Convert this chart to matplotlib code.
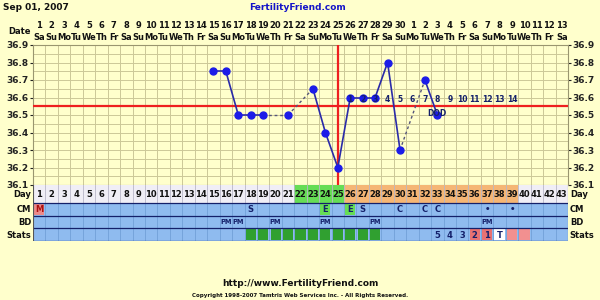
import matplotlib
matplotlib.use("Agg")
import matplotlib.pyplot as plt
import numpy as np
import pandas as pd

# ---- data ----
start_date = "2007-09-01"
n_days = 43

temp_days = [15, 16, 17, 18, 19, 21, 23, 24, 25, 26, 27, 28, 29, 30, 32, 33]
temps = [36.75, 36.75, 36.5, 36.5, 36.5, 36.5, 36.65, 36.4, 36.2,
         36.6, 36.6, 36.6, 36.8, 36.3, 36.7, 36.5]

coverline = 36.55
ovulation_day = 25

dpo_days = list(range(26, 40))
dpo_labels = [str(i) for i in range(1, 15)]

fertile_days = [22, 23, 24, 25]
luteal_days = list(range(26, 40))

cm_days = [1, 18, 24, 26, 27, 30, 32, 33, 37, 39]
cm_text = ["M", "S", "E", "E", "S", "C", "C", "C", "\u2022", "\u2022"]
cm_box = {1: "#ec8a8a", 24: "#66dd55", 26: "#66dd55"}

bd_days = [16, 17, 20, 24, 28, 37]
bd_text = ["PM"] * len(bd_days)

stats_green_days = list(range(18, 29))
stats_days = [33, 34, 35, 36, 37, 38]
stats_text = ["5", "4", "3", "2", "1", "T"]
stats_box = {36: "#e87272", 37: "#e87272", 38: "#ffffff", 39: "#f29090", 40: "#f29090"}

y_ticks = [36.1, 36.2, 36.3, 36.4, 36.5, 36.6, 36.7, 36.8, 36.9]

# ---- style ----
BG = "#ffffcc"
GRID = "#ccc898"
NAVY = "#14206a"
BLUE_ROW = "#8fbbef"
FONT = "DejaVu Sans"
FS = 6

plt.rcParams["font.family"] = FONT
plt.rcParams["font.weight"] = "bold"

fig = plt.figure(figsize=(6, 3), dpi=100, facecolor=BG)

W, H = 600.0, 300.0
x0, x1 = 33, 568
ax = fig.add_axes([x0 / W, 1 - 185 / H, (x1 - x0) / W, 140 / H])
ax.set_facecolor(BG)
ax.set_xlim(0.5, n_days + 0.5)
ax.set_ylim(36.1, 36.9)

ax.set_xticks([])
ax.set_xticks(np.arange(0.5, n_days + 1, 1), minor=True)
ax.set_yticks(y_ticks)
ax.set_yticklabels([f"{v:.1f}" for v in y_ticks])
ax.set_yticks(np.arange(36.15, 36.9, 0.1), minor=True)
ax.grid(True, which="both", color=GRID, linewidth=0.7)
ax.tick_params(axis="y", which="major", left=True, right=True, labelleft=True,
               labelright=True, length=2, pad=1, labelsize=FS + 0.5, colors="#222222")
ax.tick_params(axis="both", which="minor", length=0)
ax.tick_params(axis="x", which="both", length=0)
for s in ax.spines.values():
    s.set_color("#9a9670")
    s.set_linewidth(0.8)

# coverline and ovulation line
ax.axhline(coverline, color="#ee2020", linewidth=1.6, zorder=3)
ax.axvline(ovulation_day, color="#ee2020", linewidth=1.6, zorder=3)

# temperature line: solid for consecutive days, dashed across gaps
for i in range(len(temp_days) - 1):
    xs = temp_days[i:i + 2]
    ys = temps[i:i + 2]
    if xs[1] - xs[0] == 1:
        ax.plot(xs, ys, color="#2a2aa8", linewidth=1.2, zorder=4)
    else:
        ax.plot(xs, ys, color="#55557a", linewidth=1.0, dashes=(2, 2), zorder=4)
ax.plot(temp_days, temps, "o", color="#1c1ce8", markersize=5, zorder=5)

# days past ovulation
for d, lab in zip(dpo_days, dpo_labels):
    ax.text(d, 36.587, lab, ha="center", va="center", fontsize=FS - 0.5, color=NAVY, zorder=6)
ax.text(33, 36.51, "DOD", ha="center", va="center", fontsize=FS - 0.5, color=NAVY, zorder=6)

# date header
dates = pd.date_range(start_date, periods=n_days)
xt = ax.get_xaxis_transform()
for i, dt in enumerate(dates):
    d = i + 1
    ax.text(d, (185 - 26) / 140, str(dt.day), transform=xt, ha="center",
            va="center", fontsize=FS, color="#111111")
    ax.text(d, (185 - 37) / 140, dt.strftime("%a")[:2], transform=xt, ha="center",
            va="center", fontsize=FS, color="#111111")
fig.text(31 / W, 1 - 32 / H, "Date", ha="right", va="center", fontsize=FS, color="#111111")

# ---- strips below ----
sx = fig.add_axes([x0 / W, 1 - 241 / H, (x1 - x0) / W, 56 / H])
sx.set_xlim(0.5, n_days + 0.5)
sx.set_ylim(56, 0)
sx.axis("off")
rows = {"Day": (0, 18), "CM": (18, 31), "BD": (31, 43), "Stats": (43, 56)}

all_days = np.arange(1, n_days + 1)
day_colors = []
for d in all_days:
    if d in fertile_days:
        day_colors.append("#66dd55")
    elif d in luteal_days:
        day_colors.append("#f5b675")
    else:
        day_colors.append("#f0eef6")
sx.bar(all_days, 18, bottom=0, width=1, color=day_colors, linewidth=0)
for name in ["CM", "BD", "Stats"]:
    a, b = rows[name]
    sx.bar(all_days, b - a, bottom=a, width=1, color=BLUE_ROW, linewidth=0)

# column separators
for xb in np.arange(0.5, n_days + 1, 1):
    sx.plot([xb, xb], [0, 18], color="#b8b6c8", linewidth=0.6)
    sx.plot([xb, xb], [18, 56], color="#72a0d8", linewidth=0.6)
for yb in [18, 31, 43, 56]:
    sx.plot([0.5, n_days + 0.5], [yb, yb], color=NAVY, linewidth=0.9)
sx.plot([0.5, 0.5], [0, 56], color="#555555", linewidth=0.8)
sx.plot([n_days + 0.5, n_days + 0.5], [0, 56], color="#555555", linewidth=0.8)

for d in all_days:
    sx.text(d, 9.5, str(d), ha="center", va="center", fontsize=FS, color="#111111")

cm_y = sum(rows["CM"]) / 2
for d, lab in zip(cm_days, cm_text):
    if d in cm_box:
        sx.bar(d, 11, bottom=cm_y - 5.5, width=0.8, color=cm_box[d], linewidth=0)
    col = "#aa1010" if lab == "M" else NAVY
    sx.text(d, cm_y + 0.5, lab, ha="center", va="center", fontsize=FS, color=col)

bd_y = sum(rows["BD"]) / 2
for d, lab in zip(bd_days, bd_text):
    sx.text(d, bd_y + 0.5, lab, ha="center", va="center", fontsize=FS - 1.2, color=NAVY)

st_y = sum(rows["Stats"]) / 2
sx.bar(stats_green_days, 11, bottom=st_y - 5.5, width=0.82, color="#30a030", linewidth=0)
for d, col in stats_box.items():
    sx.bar(d, 11, bottom=st_y - 5.5, width=0.82, color=col, linewidth=0)
for d, lab in zip(stats_days, stats_text):
    sx.text(d, st_y + 0.5, lab, ha="center", va="center", fontsize=FS, color=NAVY)

for name, (a, b) in rows.items():
    yc = (a + b) / 2 + 0.5
    sx.text(0.35, yc, name, ha="right", va="center", fontsize=FS, color="#111111")
    sx.text(n_days + 0.65, yc, name, ha="left", va="center", fontsize=FS, color="#111111")

# ---- titles ----
fig.text(3 / W, 1 - 7 / H, "Sep 01, 2007", ha="left", va="center", fontsize=6.5, color="#111111")
fig.text(298 / W, 1 - 7 / H, "FertilityFriend.com", ha="center", va="center",
         fontsize=6.5, color="#1414c8")
fig.text(300 / W, 1 - 284 / H, "http://www.FertilityFriend.com", ha="center", va="center",
         fontsize=6.5, color="#111111")
fig.text(300 / W, 1 - 295 / H,
         "Copyright 1998-2007 Tamtris Web Services Inc. - All Rights Reserved.",
         ha="center", va="center", fontsize=4, color="#111111")

fig.savefig("out.png", dpi=100, facecolor=BG)
